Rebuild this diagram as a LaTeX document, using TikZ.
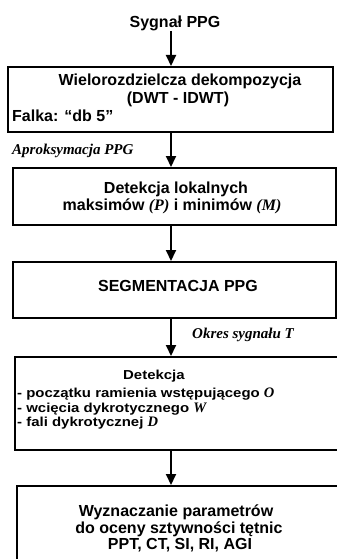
\documentclass[tikz,border=0pt]{standalone}
\usepackage{fontspec}
\setmainfont{Liberation Sans}
\newfontfamily\tms{Liberation Serif}
\newfontfamily\widesans[FakeStretch=1.15]{Liberation Sans}
\usetikzlibrary{arrows.meta}
\begin{document}
\begin{tikzpicture}[x=1pt,y=-1pt,
  box/.style={draw, line width=2pt, rectangle, inner sep=0pt},
  txt/.style={font=\fontsize{16}{19}\selectfont\bfseries, inner sep=0pt},
  small/.style={font=\widesans\fontsize{13}{15}\selectfont\bfseries, inner sep=0pt},
  lbl/.style={font=\tms\fontsize{15}{18}\selectfont\bfseries\itshape, inner sep=0pt},
  arr/.style={line width=2pt, -{Triangle[length=11pt,width=10pt]}}]
\useasboundingbox (0,0) rectangle (337,559);
\clip (0,0) rectangle (337,559);
\newcommand{\mi}[1]{{\tms\bfseries\itshape #1}}
\newcommand{\mib}[1]{{\tms\fontsize{14.5}{15}\selectfont\bfseries\itshape #1}}
\coordinate (ax) at (171,0);
\node[txt, anchor=base] (src) at (175,27.3) {Sygnał PPG};
% box 1
\node[box, minimum width=325pt, minimum height=65pt] (b1) at (170.5,99.5) {};
\node[txt, anchor=base] (t1a) at (180,86) {Wielorozdzielcza dekompozycja};
\node[txt, anchor=base] (t1b) at (178,103.5) {(DWT - IDWT)};
\node[txt, anchor=base west] (t1c) at (12,121.7) {Falka: “db 5”};
\node[lbl, anchor=base west] (l1) at (12,154) {Aproksymacja PPG};
% box 2
\node[box, minimum width=323pt, minimum height=57pt] (b2) at (174.5,196.5) {};
\node[txt, anchor=base] (t2a) at (176,193) {Detekcja lokalnych};
\node[txt, anchor=base] (t2b) at (172,210) {maksimów \mi{(P)} i minimów \mi{(M)}};
% box 3
\node[box, minimum width=323pt, minimum height=56pt] (b3) at (174.5,290) {};
\node[txt, anchor=base] (t3) at (178,291.7) {SEGMENTACJA PPG};
\node[lbl, anchor=base west] (l2) at (192,338) {Okres sygnału T};
% box 4
\node[box, minimum width=330pt, minimum height=93pt] (b4) at (180,403.5) {};
\node[small, anchor=base west] (t4a) at (123,379.5) {Detekcja};
\node[small, anchor=base west] (t4b) at (17,397) {- początku ramienia wstępującego \mib{O}};
\node[small, anchor=base west] (t4c) at (17,412) {- wcięcia dykrotycznego \mib{W}};
\node[small, anchor=base west] (t4d) at (17,426.5) {- fali dykrotycznej \mib{D}};
% box 5
\node[box, minimum width=333pt, minimum height=84pt] (b5) at (183.5,528) {};
\node[txt, anchor=base] (t5a) at (176,516.5) {Wyznaczanie parametrów};
\node[txt, anchor=base] (t5b) at (179,533) {do oceny sztywności tętnic};
\node[txt, anchor=base] (t5c) at (180,549.5) {PPT, CT, SI, RI, AGI};
% arrows
\draw[arr] (src.south -| ax) -- (b1.north -| ax);
\draw[arr] (b1.south -| ax) -- (b2.north -| ax);
\draw[arr] (b2.south -| ax) -- (b3.north -| ax);
\draw[arr] (b3.south -| ax) -- (b4.north -| ax);
\draw[arr] (b4.south -| ax) -- (b5.north -| ax);
\end{tikzpicture}
\end{document}
